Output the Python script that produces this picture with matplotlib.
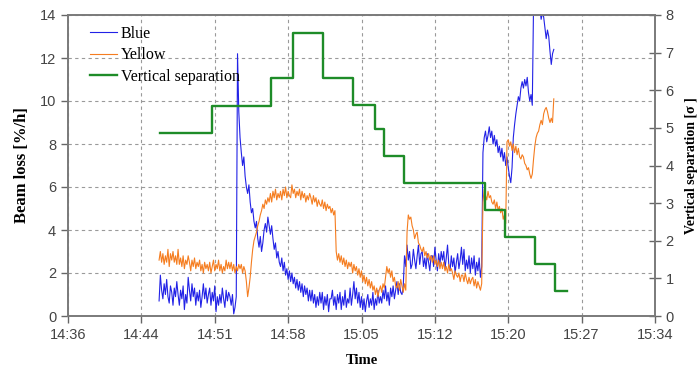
import matplotlib
matplotlib.use("Agg")
import matplotlib.pyplot as plt
import numpy as np

# ---- data -------------------------------------------------------------
# time axis: minutes after 14:36
x_tick_labels = ["14:36", "14:44", "14:51", "14:58", "15:05",
                 "15:12", "15:20", "15:27", "15:34"]
x_span = 58.0

sample_start = 9.0      # first sample (minutes after 14:36)
sample_step = 0.125     # minutes between samples (8 per minute)

# Beam loss [%/h], one line per minute
blue = [
    0.7, 1.9, 1.2, 0.8, 1.5, 1.0, 1.7, 0.9,        # 9
    0.6, 1.4, 1.1, 0.5, 1.3, 0.9, 1.6, 1.0,        # 10
    0.5, 1.2, 0.8, 1.4, 0.3, 1.0, 0.6, 1.8,        # 11
    1.2, 0.7, 1.5, 0.9, 1.3, 0.5, 1.1, 0.7,        # 12
    1.2, 0.4, 0.9, 1.5, 0.8, 1.3, 0.6, 1.0,        # 13
    1.3, 0.5, 1.1, 0.7, 1.4, 0.2, 0.9, 0.5,        # 14
    1.0, 0.6, 1.3, 0.8, 0.4, 1.2, 0.7, 1.1,        # 15
    0.9, 0.5, 1.0, 0.1, 0.4, 0.9, 12.2, 9.5,       # 16
    8.3, 7.6, 7.0, 7.4, 6.5, 6.0, 5.7, 6.1,        # 17
    5.3, 4.8, 5.0, 4.4, 4.1, 4.4, 3.6, 3.2,        # 18
    3.7, 3.0, 3.4, 4.0, 4.3, 3.9, 4.6, 4.2,        # 19
    3.8, 4.2, 3.6, 3.1, 3.4, 2.7, 3.0, 2.5,        # 20
    2.3, 2.7, 2.1, 2.5, 1.9, 2.2, 1.7, 2.1,        # 21
    1.6, 2.0, 1.5, 1.8, 1.3, 1.7, 1.2, 1.6,        # 22
    1.1, 1.5, 0.9, 1.4, 1.0, 1.3, 0.7, 1.2,        # 23
    0.7, 1.2, 0.6, 1.0, 0.4, 0.9, 0.5, 1.1,        # 24
    0.6, 1.1, 0.3, 0.9, 0.5, 1.0, 0.2, 0.8,        # 25
    0.8, 1.2, 0.5, 0.9, 0.3, 1.0, 0.6, 1.1,        # 26
    0.3, 0.9, 0.5, 1.2, 0.4, 0.8, 0.6, 1.3,        # 27
    0.5, 1.0, 1.6, 0.8, 1.3, 0.6, 1.1, 0.4,        # 28
    0.9, 0.3, 0.8, 0.2, 0.7, 1.0, 0.4, 0.8,        # 29
    0.5, 1.1, 0.3, 0.8, 0.5, 1.2, 0.6, 0.9,        # 30
    0.6, 1.2, 0.8, 1.4, 0.7, 1.1, 0.5, 1.3,        # 31
    0.9, 1.4, 0.8, 1.2, 1.6, 1.0, 1.5, 1.1,        # 32
    1.0, 1.4, 2.8, 2.3, 3.3, 2.6, 3.0, 2.2,        # 33
    2.4, 3.1, 2.6, 2.2, 2.8, 3.3, 2.4, 2.9,        # 34
    3.0, 2.3, 2.7, 2.2, 2.9, 2.5, 2.1, 2.8,        # 35
    2.8, 2.3, 3.2, 2.6, 2.1, 2.9, 2.4, 3.0,        # 36
    2.6, 3.0, 2.2, 2.7, 3.3, 2.4, 2.1, 2.8,        # 37
    2.3, 2.7, 2.0, 2.5, 2.9, 2.2, 2.6, 3.2,        # 38
    2.4, 3.1, 2.1, 2.6, 2.2, 2.8, 2.0, 2.7,        # 39
    2.2, 2.8, 1.9, 2.5, 2.1, 2.7, 1.8, 2.3,        # 40
    7.6, 8.3, 8.6, 8.1, 8.4, 8.8, 8.3, 8.6,        # 41
    8.0, 8.4, 7.9, 8.2, 7.6, 7.9, 7.4, 7.8,        # 42
    7.2, 7.6, 7.0, 7.4, 6.9, 6.5, 6.2, 6.9,        # 43
    8.3, 8.9, 9.4, 9.8, 10.2, 10.0, 10.6, 10.9,    # 44
    10.6, 11.0, 10.7, 11.1, 10.4, 10.0, 10.3, 9.8, # 45
    14.5, 15.0, 15.5, 15.2, 14.8, 14.3, 13.8, 14.1,# 46
    13.9, 13.4, 12.9, 13.3, 13.0, 12.3, 11.7, 12.2,# 47
    12.4,                                          # 48
]

yellow = [
    2.6, 3.0, 2.5, 2.9, 2.4, 2.8, 2.5, 3.1,        # 9
    2.3, 2.9, 2.6, 3.0, 2.5, 2.8, 2.4, 3.1,        # 10
    2.4, 2.7, 2.3, 2.8, 2.2, 2.6, 2.4, 2.8,        # 11
    2.5, 2.1, 2.6, 2.3, 2.7, 2.2, 2.5, 2.3,        # 12
    2.6, 2.1, 2.4, 2.0, 2.5, 2.2, 2.4, 2.1,        # 13
    2.5, 2.0, 2.3, 2.6, 2.1, 2.4, 2.2, 2.6,        # 14
    2.1, 2.4, 2.0, 2.3, 2.1, 2.6, 2.2, 2.5,        # 15
    2.2, 2.5, 2.1, 2.4, 2.0, 2.3, 2.1, 2.4,        # 16
    2.2, 2.4, 2.0, 2.3, 2.1, 1.6, 0.9, 1.3,        # 17
    1.8, 2.5, 3.1, 3.5, 3.7, 3.9, 4.2, 4.4,        # 18
    4.7, 4.9, 5.2, 5.0, 5.4, 5.2, 5.5, 5.3,        # 19
    5.7, 5.3, 5.8, 5.5, 5.9, 5.4, 5.7, 5.5,        # 20
    5.8, 5.4, 5.9, 5.6, 6.0, 5.5, 5.8, 5.6,        # 21
    5.5, 6.1, 5.7, 5.9, 5.5, 5.8, 5.6, 5.9,        # 22
    5.4, 5.8, 5.5, 5.7, 5.3, 5.6, 5.4, 5.7,        # 23
    5.5, 5.2, 5.6, 5.3, 5.5, 5.1, 5.4, 5.2,        # 24
    5.1, 5.4, 5.0, 5.3, 4.9, 5.2, 5.0, 5.1,        # 25
    4.8, 5.0, 4.7, 4.9, 3.0, 2.6, 2.9, 2.5,        # 26
    2.8, 2.4, 2.7, 2.3, 2.6, 2.2, 2.5, 2.3,        # 27
    2.5, 2.0, 2.4, 2.1, 2.3, 1.9, 2.2, 1.8,        # 28
    2.1, 1.6, 1.9, 1.5, 1.8, 1.4, 1.7, 1.3,        # 29
    1.6, 1.2, 1.4, 1.0, 1.3, 0.9, 1.2, 1.4,        # 30
    1.1, 1.5, 1.3, 1.8, 2.3, 2.0, 2.2, 1.8,        # 31
    2.1, 1.6, 1.8, 1.4, 1.3, 1.6, 1.2, 1.7,        # 32
    1.4, 1.1, 1.5, 1.2, 3.9, 4.7, 4.5, 4.6,        # 33
    4.2, 4.0, 3.6, 3.8, 3.9, 3.4, 3.3, 3.1,        # 34
    3.0, 3.2, 2.8, 3.0, 2.7, 2.9, 2.6, 2.8,        # 35
    2.5, 2.8, 2.4, 2.6, 2.3, 2.6, 2.2, 2.5,        # 36
    2.2, 2.5, 2.1, 2.3, 2.0, 2.4, 2.1, 2.2,        # 37
    2.0, 1.7, 2.1, 1.9, 1.8, 2.0, 1.6, 1.9,        # 38
    1.9, 1.6, 2.0, 1.7, 1.5, 1.8, 1.5, 1.7,        # 39
    1.8, 1.4, 1.7, 1.3, 1.6, 1.4, 1.2, 1.5,        # 40
    5.3, 5.9, 5.6, 5.4, 5.8, 5.5, 5.6, 5.3,        # 41
    5.2, 5.4, 5.0, 5.3, 4.9, 5.1, 4.8, 5.0,        # 42
    4.5, 4.7, 4.3, 8.1, 8.2, 7.9, 8.1, 7.7,        # 43
    8.0, 7.6, 7.9, 7.5, 7.8, 7.4, 7.3, 7.5,        # 44
    7.4, 7.1, 7.0, 6.8, 6.9, 6.6, 6.4, 6.6,        # 45
    7.3, 7.9, 8.3, 8.5, 8.6, 8.9, 9.1, 8.9,        # 46
    9.4, 9.6, 9.7, 9.5, 9.2, 9.0, 9.2, 9.0,        # 47
    10.1,                                          # 48
]

# Vertical separation [sigma] step profile
sep_time = [9.1, 14.2, 20.1, 22.2, 25.2, 28.2, 30.3, 31.2, 33.2,
            41.2, 43.2, 46.15, 48.1, 49.3]
sep_value = [4.87, 5.59, 6.32, 7.53, 6.32, 5.60, 4.97, 4.26, 3.53,
             2.82, 2.09, 1.37, 0.67, 0.67]

# ---- plot -------------------------------------------------------------
t_blue = sample_start + sample_step * np.arange(len(blue))
t_yellow = sample_start + sample_step * np.arange(len(yellow))

fig = plt.figure(figsize=(7.0, 3.7), dpi=100)
ax = fig.add_axes([68 / 700, 1 - 316 / 370, 587 / 700, 301 / 370])
ax2 = ax.twinx()

grid_kw = dict(color="#9a9a9a", linestyle=(0, (3, 3)), linewidth=0.8)
ax.set_axisbelow(True)
ax.grid(True, which="major", **grid_kw)

l1, = ax.plot(t_blue, blue, color="#2222e6", lw=0.8, label="Blue")
l2, = ax.plot(t_yellow, yellow, color="#f57d20", lw=0.8, label="Yellow")
l3, = ax2.step(sep_time, sep_value, where="post", color="#1e8c28",
               lw=1.7, label="Vertical separation")

ax.set_xlim(0, x_span)
ax.set_ylim(0, 14)
ax2.set_ylim(0, 8)
ax.set_xticks(np.linspace(0, x_span, len(x_tick_labels)))
ax.set_xticklabels(x_tick_labels)
ax.set_yticks(np.arange(0, 15, 2))
ax2.set_yticks(np.arange(0, 9, 1))

for lab in ax.get_xticklabels() + ax.get_yticklabels() + ax2.get_yticklabels():
    lab.set_fontfamily("Liberation Sans")
    lab.set_fontsize(10.5)
    lab.set_color("#444444")

ax.tick_params(axis="both", direction="out", length=5, color="#666666", width=1)
ax2.tick_params(axis="y", direction="inout", length=8, color="#666666", width=1)

for a in (ax, ax2):
    for s in a.spines.values():
        s.set_color("#7a7a7a")
        s.set_linewidth(1.2)

ax.set_xlabel("Time", family="Liberation Serif", fontweight="bold",
              fontsize=10.5, labelpad=9)
ax.set_ylabel("Beam loss [%/h]", family="Liberation Serif",
              fontweight="bold", fontsize=12, labelpad=7)
ax2.set_ylabel("Vertical separation [σ ]", family="Liberation Serif",
               fontweight="bold", fontsize=10, labelpad=8)

ax2.legend(handles=[l1, l2, l3], loc="upper left",
           bbox_to_anchor=(0.037, 0.965), frameon=False, borderpad=0,
           borderaxespad=0, handlelength=1.7, handletextpad=0.25,
           labelspacing=0.35, prop=dict(family="Liberation Serif", size=11.5))

fig.savefig("out.png", dpi=100)
